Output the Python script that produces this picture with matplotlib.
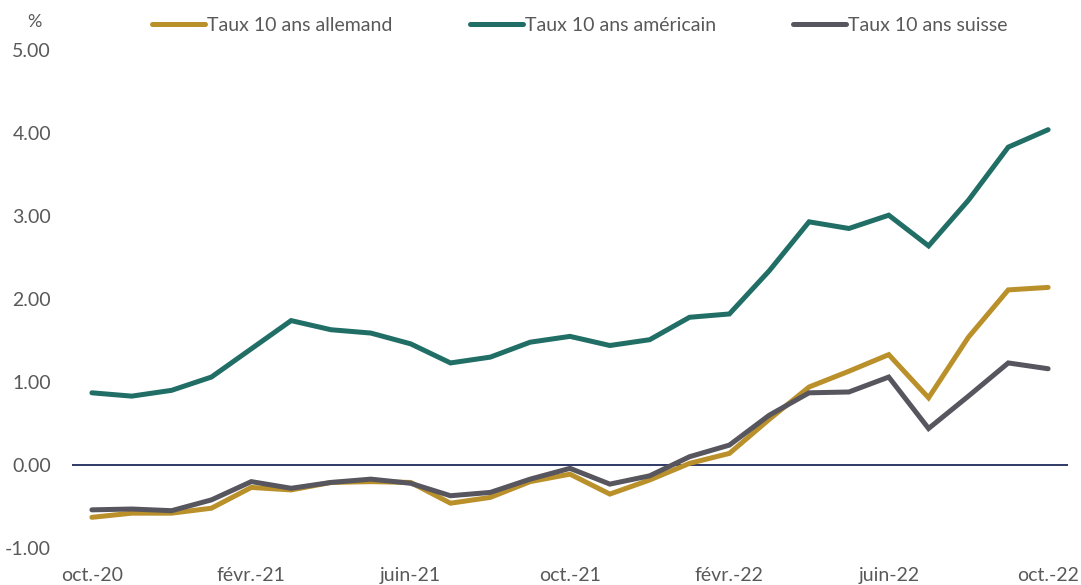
import matplotlib
matplotlib.use("Agg")
import matplotlib.pyplot as plt
import numpy as np

# ── Data (monthly, oct.-20 → oct.-22) ─────────────────────────────────────────
months = ["oct.-20", "nov.-20", "déc.-20", "janv.-21", "févr.-21", "mars-21",
          "avr.-21", "mai-21", "juin-21", "juil.-21", "août-21", "sept.-21",
          "oct.-21", "nov.-21", "déc.-21", "janv.-22", "févr.-22", "mars-22",
          "avr.-22", "mai-22", "juin-22", "juil.-22", "août-22", "sept.-22",
          "oct.-22"]

taux_allemand = [-0.63, -0.58, -0.58, -0.52, -0.27, -0.30, -0.21, -0.20, -0.21,
                 -0.46, -0.39, -0.20, -0.11, -0.35, -0.18, 0.02, 0.14, 0.55,
                 0.94, 1.13, 1.33, 0.81, 1.54, 2.11, 2.14]

taux_americain = [0.87, 0.83, 0.90, 1.06, 1.40, 1.74, 1.63, 1.59, 1.46,
                  1.23, 1.30, 1.48, 1.55, 1.44, 1.51, 1.78, 1.82, 2.34,
                  2.93, 2.85, 3.01, 2.64, 3.19, 3.83, 4.04]

taux_suisse = [-0.54, -0.53, -0.55, -0.42, -0.20, -0.28, -0.21, -0.17, -0.22,
               -0.37, -0.33, -0.17, -0.04, -0.23, -0.13, 0.10, 0.24, 0.60,
               0.87, 0.88, 1.06, 0.44, 0.83, 1.23, 1.16]

tick_idx = [0, 4, 8, 12, 16, 20, 24]
y_ticks = [-1.0, 0.0, 1.0, 2.0, 3.0, 4.0, 5.0]

# ── Style ─────────────────────────────────────────────────────────────────────
GOLD = "#BA902A"
TEAL = "#206E65"
GREY = "#57555E"
TEXT = "#595959"
NAVY = "#1F2A5C"

plt.rcParams["font.family"] = ["Lato", "DejaVu Sans"]

fig = plt.figure(figsize=(10.81, 5.85), dpi=100)
ax = fig.add_axes([0.0666, 0.0632, 0.9214, 0.8513])

x = np.arange(len(months))
lw = 3.6
l1, = ax.plot(x, taux_allemand, color=GOLD, lw=lw, solid_capstyle="round",
              solid_joinstyle="miter", label="Taux 10 ans allemand", zorder=3)
l2, = ax.plot(x, taux_americain, color=TEAL, lw=lw, solid_capstyle="round",
              solid_joinstyle="miter", label="Taux 10 ans américain", zorder=3)
l3, = ax.plot(x, taux_suisse, color=GREY, lw=lw, solid_capstyle="round",
              solid_joinstyle="miter", label="Taux 10 ans suisse", zorder=4)

ax.axhline(0, color=NAVY, lw=1.3, zorder=2)

ax.set_xlim(-0.5, len(months) - 0.5)
ax.set_ylim(-1.0, 5.0)
ax.set_yticks(y_ticks)
ax.set_yticklabels([f"{v:.2f}" for v in y_ticks])
ax.set_xticks(tick_idx)
ax.set_xticklabels([months[i] for i in tick_idx])
ax.tick_params(length=0, labelsize=14, colors=TEXT)
ax.tick_params(axis="y", pad=15)
ax.tick_params(axis="x", pad=14)
for s in ax.spines.values():
    s.set_visible(False)

fig.text(0.032, 0.962, "%", fontsize=13, color=TEXT, ha="center", va="center")

fig.legend(handles=[l1, l2, l3], loc="center left", bbox_to_anchor=(0.1406, 0.957),
           ncol=3, frameon=False, fontsize=14, labelcolor=TEXT,
           handlelength=2.73, handletextpad=0.12, columnspacing=3.95,
           borderaxespad=0, borderpad=0)

fig.savefig("out.png", dpi=100)
